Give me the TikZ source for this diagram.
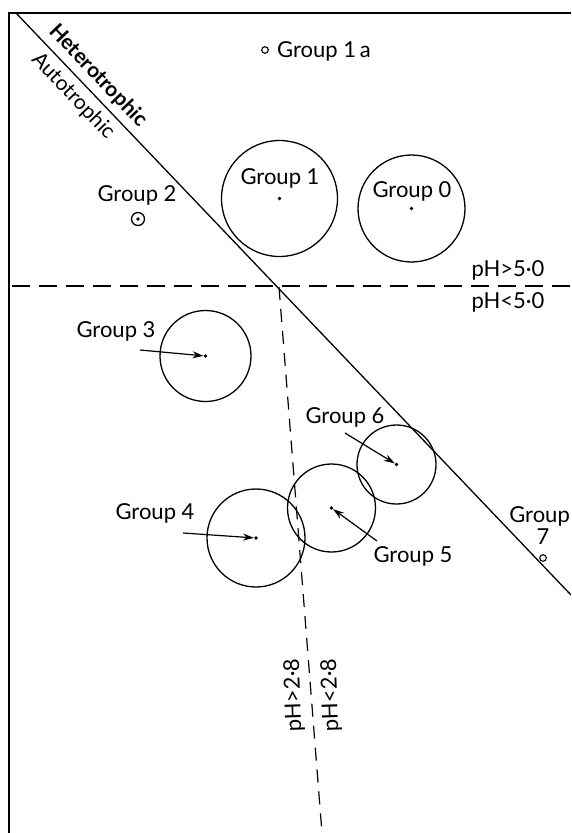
\documentclass[tikz,border=0pt]{standalone}
\usepackage{fontspec}
\setmainfont{Lato}
\usetikzlibrary{arrows.meta}
\begin{document}
\begin{tikzpicture}[x=1pt,y=-1pt,
  lbl/.style={font=\fontsize{22}{26}\selectfont, inner sep=0pt},
  grp/.style={line width=1.3pt},
  ctr/.style={fill, circle, inner sep=0pt, minimum size=3.6pt},
  ptr/.style={line width=1.2pt, -{Stealth[length=11pt,width=7pt]}, shorten >=2pt},
  dsh/.style={line width=1.3pt, dash pattern=on 18pt off 9pt},
  vdsh/.style={line width=1.2pt, dash pattern=on 13pt off 9pt},
]
\useasboundingbox (0,0) rectangle (571,833);
\begin{scope}
\clip (0,0) rectangle (571,833);
% frame
\coordinate (fb) at (9,833);
\coordinate (fc) at (9,13);
\coordinate (fr) at (571,13);
\draw[line width=2pt] (fb) -- (fc) -- (fr);
% dividing lines
\coordinate (dA) at (16,13);
\coordinate (dB) at (571,595);
\draw[line width=1.3pt] (dA) -- (dB);
\coordinate (hA) at (12,286);
\coordinate (hB) at (575,286);
\draw[dsh] (hA) -- (hB);
\coordinate (vA) at (279,287);
\coordinate (vB) at (322,833);
\draw[vdsh] (vA) -- (vB);
% group centres
\coordinate (c1) at (279.5,198.5);
\coordinate (c0) at (411.5,208.5);
\coordinate (c3) at (205.5,356);
\coordinate (c6) at (396.5,464.5);
\coordinate (c5) at (331.5,508);
\coordinate (c4) at (256,538);
\draw[grp] (c1) circle[radius=58];
\draw[grp] (c0) circle[radius=53.5];
\draw[grp] (c3) circle[radius=45.5];
\draw[grp] (c6) circle[radius=39.5];
\draw[grp] (c5) circle[radius=44];
\draw[grp] (c4) circle[radius=49];
\foreach \c in {c1,c0,c3,c6,c5,c4} \node[ctr] at (\c) {};
% small groups
\coordinate (c2) at (138,219);
\draw[grp] (c2) circle[radius=6.5];
\node[ctr, minimum size=3.6pt] at (c2) {};
\coordinate (c1a) at (265,50);
\draw[line width=1.1pt] (c1a) circle[radius=3.3];
\coordinate (c7) at (543,558);
\draw[line width=1.1pt] (c7) circle[radius=3.3];
% labels
\node[lbl, anchor=west] (l1a) at (277,51) {Group 1\,a};
\node[lbl] (l1) at (280,178) {Group 1};
\node[lbl] (l0) at (412,191) {Group 0};
\node[lbl] (l2) at (137,195) {Group 2};
\node[lbl] (l3) at (116,331) {Group 3};
\node[lbl] (l4) at (155,513) {Group 4};
\node[lbl] (l5) at (413,556) {Group 5};
\node[lbl] (l6) at (345,417) {Group 6};
\node[lbl, anchor=east] (l7) at (570,516) {Group};
\node[lbl] (l7b) at (543,537) {7};
\node[lbl] (ph1) at (508,270) {pH>5·0};
\node[lbl] (ph2) at (508,302) {pH<5·0};
\node[lbl, rotate=92] (ph3) at (294,695) {pH>2·8};
\node[lbl, rotate=92] (ph4) at (331,695) {pH<2·8};
\node[lbl, font=\fontsize{21}{24}\selectfont\bfseries, rotate=-46.4] (het) at (98,76) {Heterotrophic};
\node[lbl, font=\fontsize{21}{24}\selectfont, rotate=-46.4] (aut) at (73,96) {Autotrophic};
% pointers
\coordinate (p3) at (140,350);
\coordinate (p4) at (183,533);
\coordinate (p5) at (377,541);
\coordinate (p6) at (345,433);
\draw[ptr] (p3) -- (c3);
\draw[ptr] (p4) -- (c4);
\draw[ptr] (p5) -- (c5);
\draw[ptr] (p6) -- (c6);
\end{scope}
\end{tikzpicture}
\end{document}
